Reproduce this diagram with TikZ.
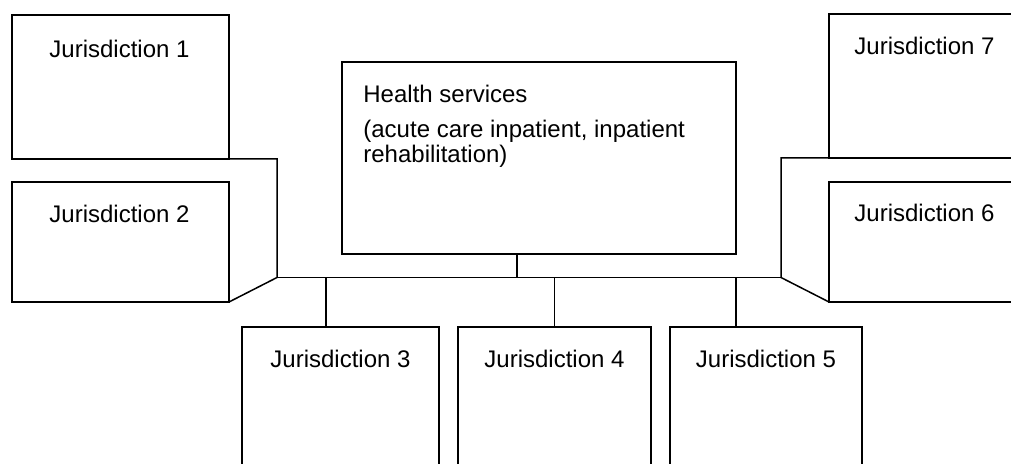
\documentclass[tikz,border=0pt]{standalone}
\usepackage{fontspec}
\setmainfont{Liberation Sans}
\begin{document}
\begin{tikzpicture}[x=0.5pt,y=-0.5pt,
  box/.style={draw,line width=0.75pt,inner sep=0pt,outer sep=0pt,rectangle},
  lbl/.style={inner sep=0pt,font=\fontsize{12}{12.5}\selectfont,anchor=base},
  lbll/.style={inner sep=0pt,font=\fontsize{12}{12.5}\selectfont,anchor=base west},
  conn/.style={line width=0.75pt}]
\useasboundingbox (0,0) rectangle (1011,464);
\clip (0,0) rectangle (1011,464);
% boxes
\node[box,minimum width=108.5pt,minimum height=72pt] (j1) at (120.5,87) {};
\node[box,minimum width=108.5pt,minimum height=60pt] (j2) at (120.5,242) {};
\node[box,minimum width=95.5pt,minimum height=72pt] (j7) at (924.5,86) {};
\node[box,minimum width=95.5pt,minimum height=60pt] (j6) at (924.5,242) {};
\node[box,minimum width=197pt,minimum height=96pt] (h) at (539,158) {};
\node[box,minimum width=98.5pt,minimum height=76.5pt] (j3) at (340.5,403.5) {};
\node[box,minimum width=96.5pt,minimum height=76.5pt] (j4) at (554.5,403.5) {};
\node[box,minimum width=96pt,minimum height=76.5pt] (j5) at (766,403.5) {};
% labels
\node[lbl] (t1) at (119.5,58) {Jurisdiction 1};
\node[lbl] (t2) at (119.5,223) {Jurisdiction 2};
\node[lbl] (t7) at (924.5,55) {Jurisdiction 7};
\node[lbl] (t6) at (924.5,222) {Jurisdiction 6};
\node[lbl] (t3) at (340.5,368) {Jurisdiction 3};
\node[lbl] (t4) at (554.5,368) {Jurisdiction 4};
\node[lbl] (t5) at (766,368) {Jurisdiction 5};
\node[lbll] (ha) at (363,103) {Health services};
\node[lbll] (hb) at (363,138) {(acute care inpatient, inpatient};
\node[lbll] (hc) at (363,163) {rehabilitation)};
% connectors
\coordinate (busL) at (277,277.5);
\coordinate (busR) at (781,277.5);
\coordinate (hx) at (517,277.5);
\coordinate (d3) at (326,277.5);
\coordinate (d5) at (736,277.5);
\draw[conn] (busL) -- (busR);
\draw[conn] (j1.south east) -| (busL) -- (j2.south east);
\draw[conn] (j7.south west) -| (busR) -- (j6.south west);
\draw[conn] (hx) -- (hx |- h.south);
\draw[conn] (d3) -- (d3 |- j3.north);
\draw[conn] (j4.north) -- (j4.north |- busL);
\draw[conn] (d5) -- (d5 |- j5.north);
\end{tikzpicture}
\end{document}
